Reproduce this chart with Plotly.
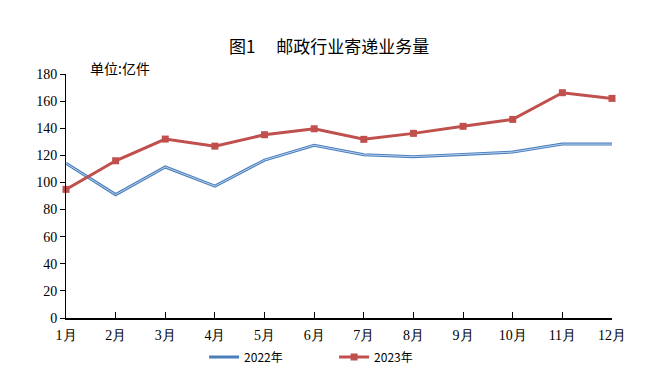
import plotly.graph_objects as go

months = ["1月", "2月", "3月", "4月", "5月", "6月", "7月", "8月", "9月", "10月", "11月", "12月"]
vol_2022 = [114.1, 91.0, 111.4, 97.3, 116.5, 127.4, 120.4, 119.0, 120.7, 122.4, 128.3, 128.3]
vol_2023 = [94.9, 116.0, 132.0, 126.8, 135.2, 139.6, 131.8, 136.2, 141.4, 146.5, 166.2, 162.0]
y_ticks = [0, 20, 40, 60, 80, 100, 120, 140, 160, 180]

serif = "Liberation Serif"
sans = "Noto Sans CJK SC"

fig = go.Figure()
fig.add_trace(go.Scatter(
    x=months, y=vol_2022, mode="lines", name="2022年",
    line=dict(color="#4a7ebb", width=3), cliponaxis=False,
))
fig.add_trace(go.Scatter(
    x=months, y=vol_2022, mode="lines", showlegend=False, hoverinfo="skip",
    line=dict(color="#b9d0ee", width=1), cliponaxis=False,
))
fig.add_trace(go.Scatter(
    x=months, y=vol_2023, mode="lines+markers", name="2023年",
    line=dict(color="#c0504d", width=3),
    marker=dict(symbol="square", size=7, color="#c0504d"),
    cliponaxis=False,
))

fig.update_layout(
    width=672, height=390,
    margin=dict(l=58, r=68, t=66, b=80),
    paper_bgcolor="white", plot_bgcolor="white",
    title=dict(text="图1　 邮政行业寄递业务量", x=0.478, xanchor="center", y=0.9, yanchor="middle",
               font=dict(family=sans, size=17, color="#000")),
    showlegend=True,
    legend=dict(orientation="h", x=0.491, xanchor="center", y=-0.16, yanchor="middle",
                font=dict(family=sans, size=12, color="#000"),
                entrywidth=85, entrywidthmode="pixels", itemwidth=30),
    annotations=[dict(text="单位:亿件", xref="paper", yref="paper", x=0.04, y=1.025,
                      xanchor="left", yanchor="middle", showarrow=False,
                      font=dict(family=sans, size=14, color="#000"))],
)
fig.update_xaxes(
    type="category", range=[0, 11], showgrid=False, zeroline=False,
    showline=True, linecolor="#000", linewidth=1.5,
    ticks="inside", ticklen=6, tickcolor="#000", tickwidth=1,
    tickfont=dict(family=serif, size=14, color="#000"), ticklabelstandoff=3,
)
fig.update_yaxes(
    range=[0, 180], tickvals=y_ticks, showgrid=False, zeroline=False,
    showline=True, linecolor="#000", linewidth=1,
    ticks="outside", ticklen=5, tickcolor="#000",
    tickfont=dict(family=serif, size=14, color="#000"),
)

fig.write_html("out.html")
